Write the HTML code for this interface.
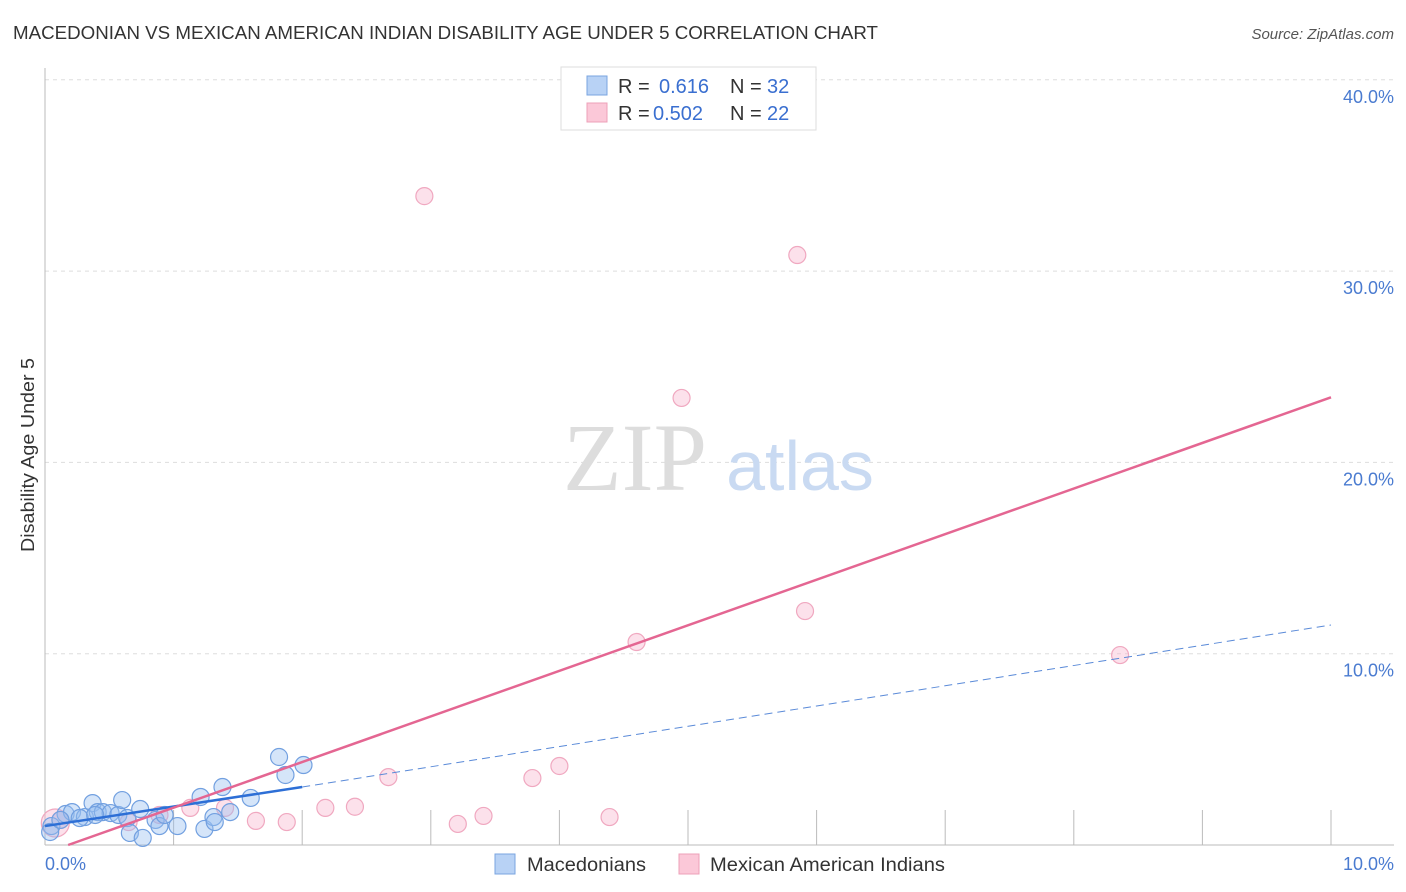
<!DOCTYPE html>
<html><head><meta charset="utf-8"><style>
body{margin:0;background:#fff;font-family:"Liberation Sans",sans-serif;}
</style></head><body>
<svg width="1406" height="892" style="display:block">
<text x="13" y="39" font-size="18" fill="#333" textLength="865" lengthAdjust="spacingAndGlyphs">MACEDONIAN VS MEXICAN AMERICAN INDIAN DISABILITY AGE UNDER 5 CORRELATION CHART</text>
<text x="1394" y="39" font-size="15" fill="#555" font-style="italic" text-anchor="end">Source: ZipAtlas.com</text>
<g id="grid"></g>
<line x1="45" y1="68" x2="45" y2="845" stroke="#bbb"/>
<line x1="45" y1="845" x2="1394" y2="845" stroke="#bbb"/>
<text x="635" y="490" font-size="96" fill="#ddd" font-family="Liberation Serif,serif" text-anchor="middle">ZIP</text>
<text x="800" y="490" font-size="70" fill="#c9daf2" text-anchor="middle">atlas</text>
<text x="34" y="455" font-size="18" fill="#333" text-anchor="middle" textLength="194" lengthAdjust="spacingAndGlyphs" transform="rotate(-90 34 455)">Disability Age Under 5</text>
<text x="45" y="870" font-size="18" fill="#4a7bd0">0.0%</text>
<text x="1394" y="870" font-size="18" fill="#4a7bd0" text-anchor="end">10.0%</text>
<g id="marks"></g>
<g>
<rect x="561" y="67" width="255" height="63" fill="#fff" stroke="#ddd"/>
<rect x="587" y="76" width="20" height="19" fill="#b8d2f5" stroke="#7aa4e0"/>
<rect x="587" y="103" width="20" height="19" fill="#fbc8d8" stroke="#eea0b8"/>
<text x="618" y="93" font-size="20" fill="#333">R =</text><text x="659" y="93" font-size="20" fill="#3a6fd0">0.616</text>
<text x="730" y="93" font-size="20" fill="#333">N =</text><text x="767" y="93" font-size="20" fill="#3a6fd0">32</text>
<text x="618" y="120" font-size="20" fill="#333">R =</text><text x="653" y="120" font-size="20" fill="#3a6fd0">0.502</text>
<text x="730" y="120" font-size="20" fill="#333">N =</text><text x="767" y="120" font-size="20" fill="#3a6fd0">22</text>
</g>
<g>
<rect x="495" y="854" width="20" height="20" fill="#b8d2f5" stroke="#7aa4e0"/>
<text x="527" y="871" font-size="19" fill="#333" textLength="119" lengthAdjust="spacingAndGlyphs">Macedonians</text>
<rect x="679" y="854" width="20" height="20" fill="#fbc8d8" stroke="#eea0b8"/>
<text x="710" y="871" font-size="19" fill="#333" textLength="235" lengthAdjust="spacingAndGlyphs">Mexican American Indians</text>
</g>
</svg>
<script>
const yTicks=[10,20,30,40];
const blueX=[0.05,0.04,0.16,0.21,0.31,0.37,0.41,0.45,0.51,0.57,0.6,0.64,0.74,0.86,0.89,0.66,0.76,1.03,1.24,1.31,1.32,1.21,1.38,1.44,1.6,1.82,1.87,2.01,0.12,0.27,0.39,0.93];
const blueY=[0.99,0.68,1.62,1.72,1.46,2.19,1.72,1.72,1.67,1.57,2.35,1.41,1.88,1.31,0.99,0.63,0.37,0.99,0.84,1.46,1.2,2.51,3.03,1.72,2.46,4.6,3.66,4.18,1.31,1.41,1.57,1.57];
const pinkX=[0.08,0.12,0.65,0.89,1.13,1.4,1.64,1.88,2.18,2.41,2.67,3.21,3.41,3.79,4.0,4.39,4.6,4.95,5.85,5.91,8.36,2.95];
const pinkY=[1.15,1.31,1.2,1.57,1.94,1.94,1.26,1.2,1.94,2.0,3.55,1.1,1.52,3.5,4.13,1.46,10.61,23.37,30.84,12.23,9.93,33.92];
const blueLine=[0,0.99,2.0,3.03,10,11.5];
const pinkLine=[0.18,0,10,23.4];
const X=v=>45+v*128.6, Y=v=>845-v*19.13;
const NS='http://www.w3.org/2000/svg';
function mk(t,a,p){const e=document.createElementNS(NS,t);for(const k in a)e.setAttribute(k,a[k]);p.appendChild(e);return e;}
const grid=document.getElementById('grid'),marks=document.getElementById('marks');
yTicks.forEach(v=>{
 const l=mk('line',{x1:45,x2:1394,y1:Y(v),y2:Y(v),stroke:'#ddd','stroke-dasharray':'4,4'},grid);
 
 
 const t=mk('text',{x:1394,y:Y(v)+23,'font-size':18,fill:'#4a7bd0','text-anchor':'end'},grid);
 t.textContent=v.toFixed(1)+'%';
 
 
});
for(let i=1;i<=10;i++){const l=mk('line',{x1:X(i),x2:X(i),y1:810,y2:845,stroke:'#bbb'},grid);
 
 }
pinkX.forEach((x,i)=>{const c=mk('circle',{cx:X(x),cy:Y(pinkY[i]),r:i==0?14:8.5,fill:'rgba(248,180,205,0.4)',stroke:'#f0a8c0','stroke-width':1.2},marks);
 
 });
blueX.forEach((x,i)=>{const c=mk('circle',{cx:X(x),cy:Y(blueY[i]),r:8.5,fill:'rgba(150,190,240,0.4)',stroke:'#72a0e0','stroke-width':1.2},marks);
 
 });
let l=mk('line',{x1:X(blueLine[0]),y1:Y(blueLine[1]),x2:X(blueLine[2]),y2:Y(blueLine[3]),stroke:'#2d6fd6','stroke-width':2.5},marks);


l=mk('line',{x1:X(blueLine[2]),y1:Y(blueLine[3]),x2:X(blueLine[4]),y2:Y(blueLine[5]),stroke:'#5a8ad8','stroke-width':1,'stroke-dasharray':'8,5'},marks);


l=mk('line',{x1:X(pinkLine[0]),y1:Y(pinkLine[1]),x2:X(pinkLine[2]),y2:Y(pinkLine[3]),stroke:'#e46692','stroke-width':2.5},marks);


</script>
</body></html>
